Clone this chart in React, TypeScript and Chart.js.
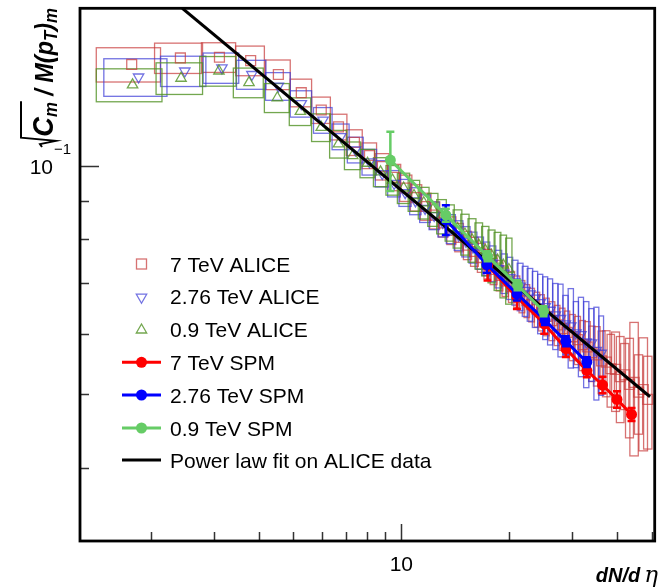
import React, { useEffect, useRef } from 'react';
import { Chart, registerables } from 'chart.js';

Chart.register(...registerables);

// ---------------- DATA ----------------
// 7 TeV ALICE (open red squares + systematic boxes)
const RED_X = [1.77, 2.42, 3.11, 3.80, 4.54, 5.26, 5.98, 6.68, 7.40, 8.15,
  8.85, 9.57, 10.3, 11.0, 11.7, 12.4, 13.1, 13.8, 14.5, 15.3,
  16.0, 16.7, 17.4, 18.1, 18.8, 19.5, 20.3, 21.0, 21.7, 22.4,
  23.1, 23.9, 24.6, 25.4, 26.3, 27.2, 28.1, 29.0, 30.0, 31.0,
  32.0, 33.0, 34.0, 35.1, 36.2, 37.3, 38.4, 39.6, 40.8, 42.0,
  43.3, 44.6, 45.9, 47.3, 48.7];
const RED_Y = [0.1361, 0.1388, 0.1391, 0.1377, 0.1320, 0.1249, 0.1185, 0.1126, 0.1074, 0.1032,
  0.0998, 0.0966, 0.0935, 0.0908, 0.0884, 0.0861, 0.0841, 0.0822, 0.0805, 0.0786,
  0.0771, 0.0757, 0.0743, 0.0730, 0.0717, 0.0705, 0.0693, 0.0683, 0.0673, 0.0664,
  0.0656, 0.0647, 0.0641, 0.0633, 0.0625, 0.0617, 0.0610, 0.0603, 0.0595, 0.0590,
  0.0581, 0.0577, 0.0567, 0.0563, 0.0553, 0.0551, 0.0540, 0.0539, 0.0527, 0.0530,
  0.0515, 0.0518, 0.0503, 0.0507, 0.0492];
const RED_ERR = [0.052, 0.046, 0.045, 0.045, 0.045, 0.042, 0.040, 0.039, 0.039, 0.039,
  0.040, 0.040, 0.040, 0.040, 0.041, 0.041, 0.042, 0.042, 0.043, 0.043,
  0.044, 0.044, 0.045, 0.045, 0.046, 0.046, 0.047, 0.048, 0.049, 0.050,
  0.051, 0.053, 0.055, 0.057, 0.059, 0.061, 0.064, 0.067, 0.070, 0.073,
  0.076, 0.080, 0.084, 0.090, 0.095, 0.10, 0.11, 0.12, 0.13, 0.10,
  0.15, 0.20, 0.12, 0.17, 0.14];
const RED_XERR = [0.36, 0.37, 0.34, 0.35, 0.36, 0.36, 0.36, 0.37, 0.38, 0.38,
  0.39, 0.39, 0.40, 0.40, 0.40, 0.40, 0.40, 0.40, 0.40, 0.40,
  0.40, 0.40, 0.40, 0.40, 0.40, 0.40, 0.40, 0.40, 0.40, 0.40,
  0.42, 0.42, 0.45, 0.45, 0.5, 0.5, 0.5, 0.5, 0.55, 0.6,
  0.6, 0.65, 0.7, 0.75, 0.8, 0.9, 0.9, 1.0, 1.0, 1.1,
  1.1, 1.2, 1.2, 1.3, 1.3];

// 2.76 TeV ALICE (open blue down-triangles + boxes)
const BLUE_X = [1.85, 2.49, 3.16, 3.83, 4.54, 5.26, 6.05, 6.78, 7.45, 8.15,
  8.85, 9.55, 10.25, 10.95, 11.65, 12.35, 13.05, 13.75, 14.45, 15.15,
  15.85, 16.55, 17.25, 17.95, 18.65, 19.35, 20.05, 20.75, 21.45, 22.15,
  22.85, 23.6, 24.4, 25.2, 26.0, 26.9, 27.8, 28.7, 29.7, 30.7,
  31.7, 32.8, 33.9, 35.0, 36.1];
const BLUE_Y = [0.1310, 0.1334, 0.1347, 0.1320, 0.1274, 0.1208, 0.1149, 0.1093, 0.1050, 0.1012,
  0.0977, 0.0948, 0.0922, 0.0899, 0.0879, 0.0860, 0.0842, 0.0826, 0.0810, 0.0795,
  0.0781, 0.0768, 0.0755, 0.0744, 0.0732, 0.0722, 0.0712, 0.0703, 0.0694, 0.0685,
  0.0678, 0.0669, 0.0660, 0.0652, 0.0645, 0.0636, 0.0629, 0.0619, 0.0615, 0.0602,
  0.0599, 0.0586, 0.0584, 0.0571, 0.0566];
const BLUE_ERR = [0.057, 0.046, 0.046, 0.044, 0.042, 0.040, 0.039, 0.039, 0.039, 0.039,
  0.040, 0.040, 0.041, 0.041, 0.042, 0.042, 0.043, 0.044, 0.045, 0.046,
  0.047, 0.049, 0.051, 0.054, 0.057, 0.060, 0.064, 0.068, 0.072, 0.076,
  0.080, 0.085, 0.090, 0.095, 0.10, 0.10, 0.11, 0.09, 0.12, 0.10,
  0.12, 0.13, 0.11, 0.14, 0.12];
const BLUE_XERR = [0.37, 0.36, 0.36, 0.36, 0.36, 0.36, 0.36, 0.37, 0.38, 0.38,
  0.39, 0.39, 0.40, 0.40, 0.40, 0.40, 0.40, 0.40, 0.40, 0.40,
  0.40, 0.40, 0.40, 0.40, 0.40, 0.40, 0.40, 0.40, 0.40, 0.40,
  0.40, 0.4, 0.4, 0.4, 0.42, 0.45, 0.45, 0.48, 0.5, 0.5,
  0.52, 0.55, 0.55, 0.55, 0.55];

// 0.9 TeV ALICE (open green up-triangles + boxes)
const GREEN_X = [1.78, 2.43, 3.10, 3.76, 4.51, 5.23, 5.98, 6.68, 7.32, 8.05,
  8.75, 9.45, 10.15, 10.85, 11.55, 12.25, 12.95, 13.65, 14.35, 15.05,
  15.75, 16.45, 17.15, 17.85, 18.55, 19.25, 19.95];
const GREEN_Y = [0.1279, 0.1305, 0.1334, 0.1288, 0.1230, 0.1180, 0.1124, 0.1069, 0.1032, 0.1008,
  0.0982, 0.0958, 0.0935, 0.0914, 0.0894, 0.0876, 0.0858, 0.0842, 0.0827, 0.0813,
  0.0799, 0.0786, 0.0774, 0.0762, 0.0751, 0.0740, 0.0730];
const GREEN_ERR = [0.050, 0.048, 0.045, 0.045, 0.044, 0.042, 0.042, 0.042, 0.042, 0.043,
  0.044, 0.045, 0.046, 0.047, 0.048, 0.050, 0.052, 0.055, 0.058, 0.062,
  0.066, 0.070, 0.075, 0.080, 0.088, 0.095, 0.10];
const GREEN_XERR = [0.37, 0.36, 0.36, 0.36, 0.36, 0.36, 0.36, 0.37, 0.38, 0.38,
  0.39, 0.39, 0.40, 0.40, 0.40, 0.40, 0.40, 0.40, 0.40, 0.40,
  0.40, 0.40, 0.40, 0.40, 0.40, 0.40, 0.40];

// SPM model points
const RED_SPM_X = [17.40, 21.01, 25.04, 28.77, 32.92, 36.41, 39.95, 43.86];
const RED_SPM_Y = [0.0739, 0.0671, 0.0619, 0.0574, 0.0537, 0.0514, 0.0492, 0.0470];
const RED_SPM_ERR = [0.045, 0.035, 0.03, 0.025, 0.02, 0.025, 0.025, 0.02];
const BLUE_SPM_X = [13.31, 17.32, 21.01, 25.16, 28.77, 32.92];
const BLUE_SPM_Y = [0.0849, 0.0741, 0.0678, 0.0626, 0.0587, 0.0551];
const BLUE_SPM_ERR = [0.045, 0.025, 0.02, 0.015, 0.015, 0.015];
const GREEN_SPM_X = [9.32, 13.31, 17.40, 21.09, 24.93];
const GREEN_SPM_Y = [0.1018, 0.0861, 0.0760, 0.0696, 0.0643];
const GREEN_SPM_ERR = [0.09, 0.02, 0.015, 0.015, 0.015];

// Power law fit (end points of the straight log-log line)
const FIT_X = [2.45, 49.4];
const FIT_Y = [0.1614, 0.0496];

// Axes
const X_MIN = 1.27;
const X_MAX = 50.9;
const Y_MIN = 0.032;
const Y_MAX = 0.1614;
const X_MINOR_TICKS = [2, 3, 4, 5, 6, 7, 8, 9, 20, 30, 40, 50];
const X_MAJOR_TICKS = [10];
const Y_MINOR_TICKS = [0.04, 0.05, 0.06, 0.07, 0.08, 0.09];
const Y_MAJOR_TICKS = [0.1];

const LEGEND_LABELS = ['7 TeV ALICE', '2.76 TeV ALICE', '0.9 TeV ALICE', '7 TeV SPM', '2.76 TeV SPM', '0.9 TeV SPM', 'Power law fit on ALICE data'];

// ---------------- STYLE ----------------
const FONT = '"Liberation Sans", Arial, Helvetica, sans-serif';
const C_RED_BOX = 'rgba(200,60,60,0.72)';
const C_BLUE_BOX = 'rgba(60,60,215,0.72)';
const C_GREEN_BOX = 'rgba(80,145,35,0.8)';
const C_RED = '#ff0000';
const C_BLUE = '#0000ff';
const C_GREEN = '#66cc66';

const ALICE = [
  { x: RED_X, y: RED_Y, e: RED_ERR, xe: RED_XERR, color: C_RED_BOX },
  { x: BLUE_X, y: BLUE_Y, e: BLUE_ERR, xe: BLUE_XERR, color: C_BLUE_BOX },
  { x: GREEN_X, y: GREEN_Y, e: GREEN_ERR, xe: GREEN_XERR, color: C_GREEN_BOX },
];

const SPM_ERRORS: Record<string, { x: number[]; y: number[]; e: number[]; color: string }> = {
  '7 TeV SPM': { x: RED_SPM_X, y: RED_SPM_Y, e: RED_SPM_ERR, color: C_RED },
  '2.76 TeV SPM': { x: BLUE_SPM_X, y: BLUE_SPM_Y, e: BLUE_SPM_ERR, color: C_BLUE },
  '0.9 TeV SPM': { x: GREEN_SPM_X, y: GREEN_SPM_Y, e: GREEN_SPM_ERR, color: C_GREEN },
};

const toPts = (xs: number[], ys: number[]) => xs.map((x, i) => ({ x, y: ys[i] }));

function clipArea(ctx: CanvasRenderingContext2D, a: any) {
  ctx.beginPath();
  ctx.rect(a.left, a.top, a.right - a.left, a.bottom - a.top);
  ctx.clip();
}

const boxPlugin = {
  id: 'aliceBoxes',
  beforeDatasetsDraw(chart: any) {
    const { ctx, chartArea, scales } = chart;
    const xs = scales.x, ys = scales.y;
    ctx.save();
    clipArea(ctx, chartArea);
    ctx.lineWidth = 1.3;
    ALICE.forEach((s) => {
      ctx.strokeStyle = s.color;
      s.x.forEach((xv, i) => {
        const x0 = xs.getPixelForValue(xv - s.xe[i]);
        const x1 = xs.getPixelForValue(xv + s.xe[i]);
        const y0 = ys.getPixelForValue(s.y[i] * (1 + s.e[i]));
        const y1 = ys.getPixelForValue(s.y[i] * (1 - s.e[i]));
        ctx.strokeRect(x0, y0, x1 - x0, y1 - y0);
      });
    });
    ctx.restore();
  },
};

const errPlugin = {
  id: 'spmErrors',
  beforeDatasetDraw(chart: any, args: any) {
    const ds = chart.data.datasets[args.index];
    const eb = SPM_ERRORS[ds.label];
    if (!eb) return;
    const { ctx, chartArea, scales } = chart;
    ctx.save();
    clipArea(ctx, chartArea);
    ctx.strokeStyle = eb.color;
    ctx.lineWidth = 2.5;
    eb.x.forEach((xv, i) => {
      const px = scales.x.getPixelForValue(xv);
      const top = scales.y.getPixelForValue(eb.y[i] * (1 + eb.e[i]));
      const bot = scales.y.getPixelForValue(eb.y[i] * (1 - eb.e[i]));
      ctx.beginPath();
      ctx.moveTo(px, top); ctx.lineTo(px, bot);
      ctx.moveTo(px - 4, top); ctx.lineTo(px + 4, top);
      ctx.moveTo(px - 4, bot); ctx.lineTo(px + 4, bot);
      ctx.stroke();
    });
    ctx.restore();
  },
};

function triangle(ctx: CanvasRenderingContext2D, x: number, y: number, r: number, down: boolean) {
  const s = down ? -1 : 1;
  ctx.beginPath();
  ctx.moveTo(x, y - s * r);
  ctx.lineTo(x + r * 0.866, y + s * r * 0.5);
  ctx.lineTo(x - r * 0.866, y + s * r * 0.5);
  ctx.closePath();
  ctx.stroke();
}

function drawYTitle(ctx: CanvasRenderingContext2D) {
  const F = (s: number) => `italic bold ${s}px ${FONT}`;
  const parts = [
    { t: 'C', size: 29, dv: 0 },
    { t: 'm', size: 18, dv: 4 },
    { t: ' / M(p', size: 25, dv: 0 },
    { t: 'T', size: 18, dv: 4 },
    { t: ')', size: 25, dv: 0 },
    { t: 'm', size: 18, dv: 4 },
  ];
  const radW = 11;
  let total = radW;
  const widths = parts.map((p) => { ctx.font = F(p.size); const w = ctx.measureText(p.t).width; total += w; return w; });
  const k = 139 / total;
  ctx.save();
  ctx.translate(53, 147);
  ctx.rotate(-Math.PI / 2);
  ctx.scale(k, 1);
  ctx.fillStyle = '#000';
  ctx.textBaseline = 'alphabetic';
  let u = radW;
  let radEnd = 0;
  parts.forEach((p, i) => {
    ctx.font = F(p.size);
    ctx.fillText(p.t, u, p.dv);
    u += widths[i];
    if (i === 1) radEnd = u;
  });
  ctx.strokeStyle = '#000';
  ctx.lineWidth = 2;
  ctx.beginPath();
  ctx.moveTo(0, -11);
  ctx.lineTo(3, -13);
  ctx.lineTo(6.5, 3);
  ctx.lineTo(10, -32);
  ctx.lineTo(radEnd + 1, -32);
  ctx.stroke();
  ctx.restore();
}

const decorPlugin = {
  id: 'decor',
  afterDraw(chart: any) {
    const { ctx, chartArea: a, scales } = chart;
    const xs = scales.x, ys = scales.y;
    ctx.save();
    // ticks
    ctx.strokeStyle = '#333';
    ctx.lineWidth = 1.5;
    ctx.beginPath();
    X_MINOR_TICKS.forEach((v) => { const p = Math.round(xs.getPixelForValue(v)) + 0.5; ctx.moveTo(p, a.bottom); ctx.lineTo(p, a.bottom - 9); });
    X_MAJOR_TICKS.forEach((v) => { const p = Math.round(xs.getPixelForValue(v)) + 0.5; ctx.moveTo(p, a.bottom); ctx.lineTo(p, a.bottom - 17); });
    Y_MINOR_TICKS.forEach((v) => { const p = Math.round(ys.getPixelForValue(v)) + 0.5; ctx.moveTo(a.left, p); ctx.lineTo(a.left + 9, p); });
    Y_MAJOR_TICKS.forEach((v) => { const p = Math.round(ys.getPixelForValue(v)) + 0.5; ctx.moveTo(a.left, p); ctx.lineTo(a.left + 19, p); });
    ctx.stroke();
    // frame
    ctx.strokeStyle = '#000';
    ctx.lineWidth = 2.8;
    ctx.strokeRect(a.left, a.top, a.right - a.left, a.bottom - a.top);

    // tick labels
    ctx.fillStyle = '#000';
    ctx.font = `21px ${FONT}`;
    ctx.textAlign = 'center';
    ctx.textBaseline = 'alphabetic';
    X_MAJOR_TICKS.forEach((v) => ctx.fillText(String(v), xs.getPixelForValue(v), a.bottom + 30));
    Y_MAJOR_TICKS.forEach((v) => {
      const p = ys.getPixelForValue(v);
      ctx.textAlign = 'right';
      ctx.font = `21px ${FONT}`;
      ctx.fillText('10', 53, p + 8);
      ctx.textAlign = 'left';
      ctx.font = `15px ${FONT}`;
      ctx.fillText('\u22121', 54, p - 12);
    });

    // x title
    ctx.textAlign = 'left';
    ctx.font = `italic bold 20px ${FONT}`;
    const w1 = ctx.measureText('dN/d').width;
    ctx.font = `italic 23px "DejaVu Serif", serif`;
    const w2 = ctx.measureText('\u03b7').width;
    const xEnd = 658;
    const x0 = xEnd - w2 - 4 - w1;
    ctx.font = `italic bold 20px ${FONT}`;
    ctx.fillText('dN/d', x0, 582);
    ctx.font = `italic 23px "DejaVu Serif", serif`;
    ctx.fillText('\u03b7', x0 + w1 + 4, 582);

    // y title
    drawYTitle(ctx);

    // legend
    const rows = [264, 296.7, 329, 362.3, 395, 428, 460];
    const mx = 141.5;
    rows.forEach((ry, i) => {
      ctx.lineWidth = 1.3;
      if (i === 0) { ctx.strokeStyle = C_RED_BOX; ctx.strokeRect(mx - 5, ry - 5, 10, 10); }
      if (i === 1) { ctx.strokeStyle = C_BLUE_BOX; triangle(ctx, mx, ry + 0.5, 6, true); }
      if (i === 2) { ctx.strokeStyle = C_GREEN_BOX; triangle(ctx, mx, ry + 1, 6, false); }
      if (i >= 3 && i <= 5) {
        const c = [C_RED, C_BLUE, C_GREEN][i - 3];
        ctx.strokeStyle = c; ctx.fillStyle = c; ctx.lineWidth = 3;
        ctx.beginPath(); ctx.moveTo(122, ry); ctx.lineTo(161, ry); ctx.stroke();
        ctx.beginPath(); ctx.arc(mx, ry, 5.5, 0, Math.PI * 2); ctx.fill();
      }
      if (i === 6) {
        ctx.strokeStyle = '#000'; ctx.lineWidth = 3;
        ctx.beginPath(); ctx.moveTo(122, ry); ctx.lineTo(161, ry); ctx.stroke();
      }
      ctx.fillStyle = '#000';
      ctx.font = `21px ${FONT}`;
      ctx.textAlign = 'left';
      ctx.fillText(LEGEND_LABELS[i], 170, ry + 7.5);
    });
    ctx.restore();
  },
};

export default function App() {
  const ref = useRef<HTMLCanvasElement | null>(null);
  useEffect(() => {
    if (!ref.current) return;
    const chart = new Chart(ref.current, {
      type: 'scatter',
      data: {
        datasets: [
          { label: 'Power law fit on ALICE data', data: toPts(FIT_X, FIT_Y), showLine: true, borderColor: '#000', borderWidth: 3, pointRadius: 0, order: 4 } as any,
          { label: '7 TeV SPM', data: toPts(RED_SPM_X, RED_SPM_Y), showLine: true, borderColor: C_RED, backgroundColor: C_RED, borderWidth: 3, pointRadius: 5.5, pointBackgroundColor: C_RED, pointBorderWidth: 0, order: 3 } as any,
          { label: '2.76 TeV SPM', data: toPts(BLUE_SPM_X, BLUE_SPM_Y), showLine: true, borderColor: C_BLUE, backgroundColor: C_BLUE, borderWidth: 3, pointRadius: 5.5, pointBackgroundColor: C_BLUE, pointBorderWidth: 0, order: 2 } as any,
          { label: '0.9 TeV SPM', data: toPts(GREEN_SPM_X, GREEN_SPM_Y), showLine: true, borderColor: C_GREEN, backgroundColor: C_GREEN, borderWidth: 3, pointRadius: 5.5, pointBackgroundColor: C_GREEN, pointBorderWidth: 0, order: 1 } as any,
          { label: '7 TeV ALICE', data: toPts(RED_X, RED_Y), pointStyle: 'rect', pointRadius: 7, pointBorderWidth: 1.3, pointBorderColor: C_RED_BOX, pointBackgroundColor: 'rgba(0,0,0,0)', order: 7 } as any,
          { label: '2.76 TeV ALICE', data: toPts(BLUE_X, BLUE_Y), pointStyle: 'triangle', pointRotation: 180, pointRadius: 6, pointBorderWidth: 1.3, pointBorderColor: C_BLUE_BOX, pointBackgroundColor: 'rgba(0,0,0,0)', order: 6 } as any,
          { label: '0.9 TeV ALICE', data: toPts(GREEN_X, GREEN_Y), pointStyle: 'triangle', pointRadius: 6, pointBorderWidth: 1.3, pointBorderColor: C_GREEN_BOX, pointBackgroundColor: 'rgba(0,0,0,0)', order: 5 } as any,
        ],
      },
      options: {
        responsive: false,
        animation: false,
        devicePixelRatio: 1,
        events: [],
        layout: { padding: { left: 80, top: 7, right: 4, bottom: 47 } },
        plugins: { legend: { display: false }, tooltip: { enabled: false } },
        scales: {
          x: { type: 'logarithmic', min: X_MIN, max: X_MAX, display: false },
          y: { type: 'logarithmic', min: Y_MIN, max: Y_MAX, display: false },
        },
      } as any,
      plugins: [boxPlugin, errPlugin, decorPlugin] as any,
    });
    return () => chart.destroy();
  }, []);
  return (
    <div style={{ position: 'absolute', left: 0, top: 0, width: 663, height: 588, background: '#fff' }}>
      <canvas ref={ref} width={663} height={588} />
    </div>
  );
}
